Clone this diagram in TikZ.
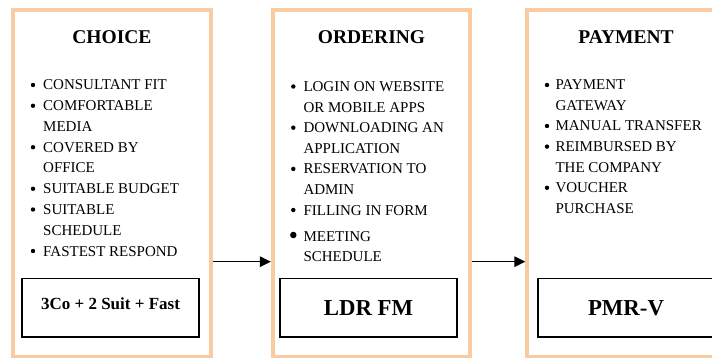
\documentclass[tikz,border=0pt]{standalone}
\usepackage{fontspec}
\setmainfont{Liberation Serif}
\usetikzlibrary{arrows.meta}
\definecolor{peach}{HTML}{F8CBA2}
\tikzset{
  outerbox/.style={draw=peach, line width=4pt, minimum width=197.2pt, minimum height=346pt, inner sep=0pt, outer sep=2pt},
  codebox/.style={draw=black, line width=1.6pt, minimum width=177pt, minimum height=58.4pt, inner sep=0pt},
  boxtitle/.style={font=\fontsize{19.5}{24}\selectfont\bfseries, anchor=base, inner sep=0pt},
  itemtext/.style={font=\fontsize{15}{20}\selectfont, anchor=base west, inner sep=0pt},
  codetext/.style={font=\fontsize{17}{20}\selectfont\bfseries, anchor=base, inner sep=0pt},
  bigcode/.style={font=\fontsize{22.8}{26}\selectfont\bfseries, anchor=base, inner sep=0pt},
  dot/.style={circle, fill=black, inner sep=0pt, minimum size=4.4pt},
  bigdot/.style={circle, fill=black, inner sep=0pt, minimum size=6.5pt},
  conn/.style={draw=black, line width=1.4pt, -{Triangle[length=11pt,width=10.5pt]}}
}
\begin{document}
\begin{tikzpicture}[x=1pt,y=-1pt]
\useasboundingbox (0,0) rectangle (712,358);
% outer boxes
\node[outerbox] (b1) at (111.9,183.5) {};
\node[outerbox] (b2) at (371.5,183.5) {};
\node[outerbox] (b3) at (626,183.5) {};
% titles
\node[boxtitle] (t1) at (111.9,44) {CHOICE};
\node[boxtitle] (t2) at (371.5,44) {ORDERING};
\node[boxtitle] (t3) at (626,44) {PAYMENT};
% box 1 items
\foreach \t/\y/\b [count=\i] in {CONSULTANT FIT/90/1, COMFORTABLE/110.75/1, MEDIA/131.5/0, COVERED BY/152.25/1, OFFICE/173/0, SUITABLE BUDGET/193.75/1, SUITABLE/214.5/1, SCHEDULE/235.25/0, FASTEST RESPOND/256/1}{
  \node[itemtext] (c\i) at (43,\y) {\t};
  \ifnum\b=1 \node[dot] (cb\i) at (33,\y-5) {}; \fi
}
% box 2 items
\foreach \t/\y/\b [count=\i] in {LOGIN ON WEBSITE/91.5/1, OR MOBILE APPS/112.1/0, DOWNLOADING AN/132.7/1, APPLICATION/153.3/0, RESERVATION TO/173.9/1, ADMIN/194.5/0, FILLING IN FORM/215/1, MEETING/241/2, SCHEDULE/261.5/0}{
  \node[itemtext] (o\i) at (303.3,\y) {\t};
  \ifnum\b=1 \node[dot] (ob\i) at (293.3,\y-5) {}; \fi
  \ifnum\b=2 \node[bigdot] (ob\i) at (293.3,\y-6) {}; \fi
}
% box 3 items
\foreach \t/\y/\b [count=\i] in {PAYMENT/90/1, GATEWAY/110.5/0, MANUAL TRANSFER/131/1, REIMBURSED BY/151.6/1, THE COMPANY/172.2/0, VOUCHER/192.8/1, PURCHASE/213.3/0}{
  \node[itemtext] (p\i) at (555.3,\y) {\t};
  \ifnum\b=1 \node[dot] (pb\i) at (547,\y-5) {}; \fi
}
% code boxes
\node[codebox] (k1) at (110.5,307.5) {};
\node[codebox] (k2) at (368.5,307.5) {};
\node[codebox] (k3) at (626.5,307.5) {};
\node[codetext] (kt1) at (110.5,309) {3Co + 2 Suit + Fast};
\node[bigcode] (kt2) at (368.5,315) {LDR FM};
\node[bigcode] (kt3) at (626,315) {PMR-V};
% connectors
\coordinate (ay) at (0,261.7);
\draw[conn] (b1.east |- ay) -- (b2.west |- ay);
\draw[conn] (b2.east |- ay) -- (b3.west |- ay);
\end{tikzpicture}
\end{document}
